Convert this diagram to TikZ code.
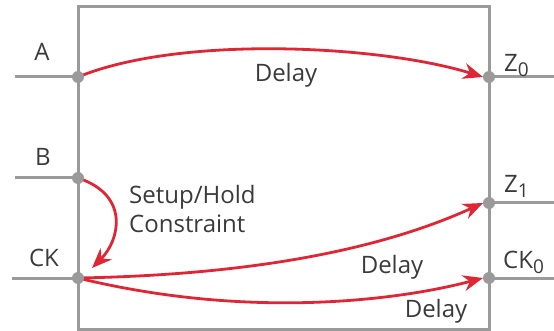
\documentclass[tikz,border=0pt]{standalone}
\usepackage{fontspec}
\setmainfont{Open Sans}
\usetikzlibrary{arrows.meta}
\definecolor{wire}{HTML}{9A9A9A}
\definecolor{arc}{HTML}{E02535}
\definecolor{ink}{HTML}{3A3A3A}
\newcommand{\pinsub}[1]{\raisebox{-5pt}{\fontsize{19}{20}\selectfont #1}}
\begin{document}
\begin{tikzpicture}[x=1pt,y=-1pt,
  wireline/.style={draw=wire,line width=3pt},
  pin/.style={circle,fill=wire,inner sep=0pt,minimum size=12pt},
  lbl/.style={text=ink,font=\fontsize{24}{29}\selectfont,inner sep=0pt},
  arcline/.style={draw=arc,line width=2.8pt,-{Stealth[length=20pt,width=16pt]}}]
\useasboundingbox (0,0) rectangle (554,331);
% block outline
\draw[wireline] (78,7) rectangle (489,329);
% pin positions
\coordinate (A) at (78,77);
\coordinate (B) at (78,178);
\coordinate (CK) at (78,278);
\coordinate (Z0) at (489,77);
\coordinate (Z1) at (489,203);
\coordinate (CK0) at (489,278);
% lead ends
\coordinate (Ain) at (15,77);
\coordinate (Bin) at (15,178);
\coordinate (CKin) at (12,278);
\coordinate (Z0out) at (554,77);
\coordinate (Z1out) at (554,203);
\coordinate (CK0out) at (554,278);
\draw[wireline] (Ain) -- (A);
\draw[wireline] (Bin) -- (B);
\draw[wireline] (CKin) -- (CK);
\draw[wireline] (Z0) -- (Z0out);
\draw[wireline] (Z1) -- (Z1out);
\draw[wireline] (CK0) -- (CK0out);
% pin labels
\node[lbl] (tA) at (42,52) {A};
\node[lbl] (tB) at (43,157) {B};
\node[lbl] (tCK) at (44,258) {CK};
\node[lbl,anchor=west] (tZ0) at (504,66) {Z\pinsub{0}};
\node[lbl,anchor=west] (tZ1) at (504,186) {Z\pinsub{1}};
\node[lbl,anchor=west] (tCK0) at (503,262) {CK\pinsub{0}};
% timing arcs
\draw[arcline] (A) .. controls (180,35) and (380,45) .. ([xshift=-6pt]Z0);
\draw[arcline] (B) .. controls (130,195) and (120,240) .. (92,268);
\draw[arcline] (CK) .. controls (250,275) and (380,250) .. ([xshift=-6pt]Z1);
\draw[arcline] (CK) .. controls (250,320) and (400,300) .. ([xshift=-6pt]CK0);
% pin dots on top
\foreach \p in {A,B,CK,Z0,Z1,CK0}
  \node[pin] (dot\p) at (\p) {};
% arc labels
\node[lbl] (d1) at (286,75) {Delay};
\node[lbl] (d2) at (392,267) {Delay};
\node[lbl] (d3) at (436,311) {Delay};
\node[lbl,anchor=west,align=left] (sh) at (129,209) {Setup/Hold\\Constraint};
\end{tikzpicture}
\end{document}
